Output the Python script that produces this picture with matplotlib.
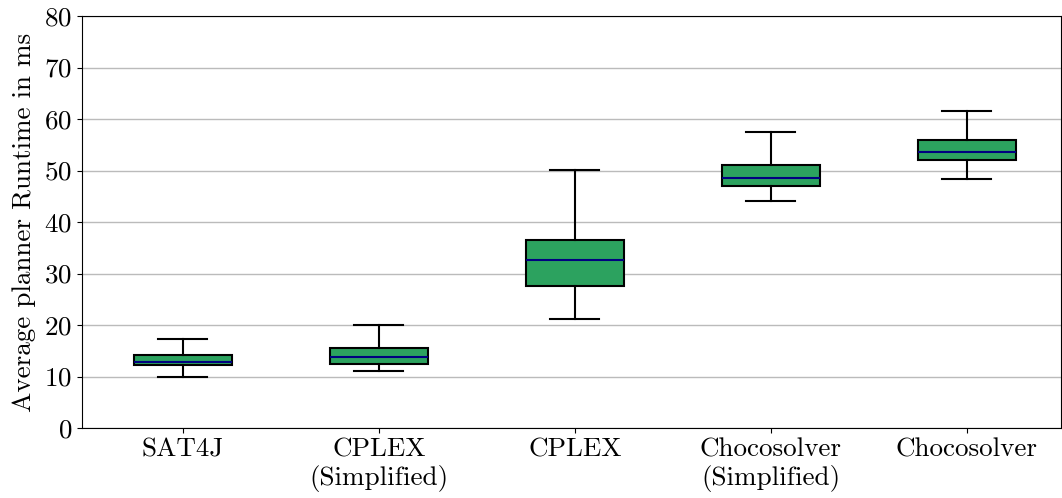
import matplotlib
matplotlib.use('Agg')
import matplotlib.pyplot as plt
from matplotlib.ticker import MultipleLocator

plt.rcParams['font.family'] = ['cmr10', 'DejaVu Serif']
plt.rcParams['mathtext.fontset'] = 'cm'
plt.rcParams['axes.formatter.use_mathtext'] = True
plt.rcParams['axes.unicode_minus'] = False

labels = ['SAT4J', 'CPLEX\n(Simplified)', 'CPLEX', 'Chocosolver\n(Simplified)', 'Chocosolver']
whislo = [10.0, 11.0, 21.2, 44.1, 48.35]
q1 = [12.2, 12.4, 27.6, 46.9, 52.0]
med = [12.75, 13.85, 32.55, 48.5, 53.5]
q3 = [14.2, 15.5, 36.6, 51.1, 55.85]
whishi = [17.3, 20.0, 50.1, 57.4, 61.55]

stats = []
for i in range(len(labels)):
    stats.append({
        'label': labels[i], 'whislo': whislo[i], 'q1': q1[i], 'med': med[i],
        'q3': q3[i], 'whishi': whishi[i], 'fliers': []
    })

fig = plt.figure(figsize=(10.62, 4.98), dpi=100)
ax = fig.add_axes([82 / 1062, 70 / 498, (1061 - 82) / 1062, (428 - 16) / 498])

ax.bxp(stats, widths=0.5, patch_artist=True, showfliers=False,
       boxprops=dict(facecolor='#2ca25f', edgecolor='black', linewidth=1.5),
       medianprops=dict(color='#000080', linewidth=1.5),
       whiskerprops=dict(color='black', linewidth=1.5),
       capprops=dict(color='black', linewidth=1.5))

ax.set_ylim(0, 80)
ax.set_xlim(0.485, 5.48)
ax.yaxis.set_major_locator(MultipleLocator(10))
ax.yaxis.grid(True, color='#bbbbbb', linewidth=1)
ax.set_axisbelow(True)
ax.set_ylabel('Average planner Runtime in ms', fontsize=19.5, labelpad=6)
ax.tick_params(labelsize=19.5)

fig.savefig('out.png', dpi=100)
